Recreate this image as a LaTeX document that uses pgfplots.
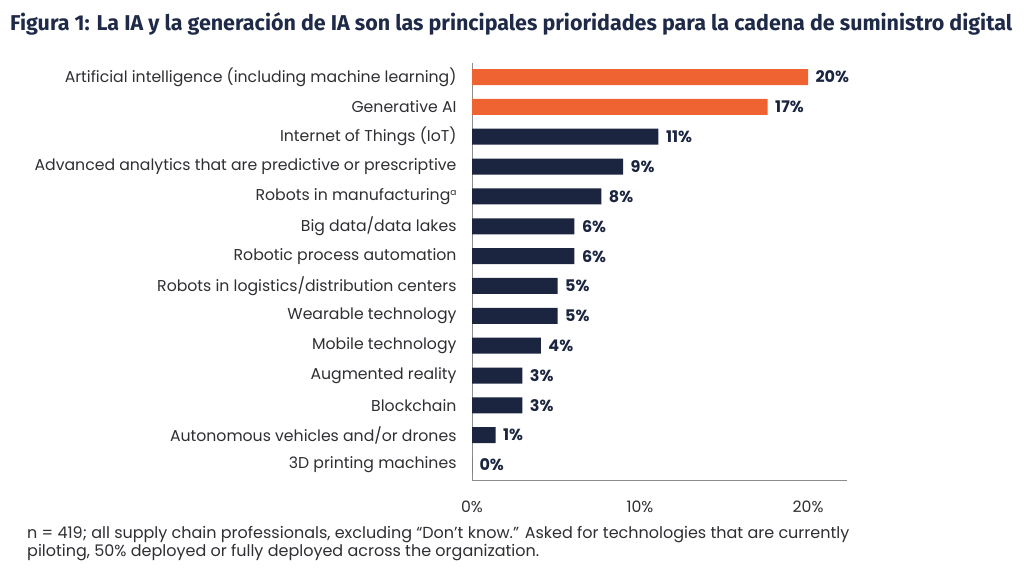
\documentclass[border=0pt]{standalone}
\usepackage{fontspec}
\setmainfont{Poppins}
\newfontfamily\titlefont{Fira Sans}
\usepackage{pgfplots}
\usepackage{pgfplotstable}
\pgfplotsset{compat=1.18}
\definecolor{myorange}{HTML}{EF6333}
\definecolor{mynavy}{HTML}{1B2540}
\definecolor{titlenavy}{HTML}{1E2A48}
\definecolor{labgray}{HTML}{2E2E33}
\pgfplotstableread{
r v p
0 20 20
1 17.6 17
}\orangedata
\pgfplotstableread{
r v p
2 11.1 11
3 9.0 9
4 7.7 8
5 6.1 6
6 6.1 6
7 5.1 5
8 5.1 5
9 4.1 4
10 3.0 3
11 3.0 3
12 1.4 1
13 0 0
}\navydata
\begin{document}
\begin{tikzpicture}
\useasboundingbox (0pt,0pt) rectangle (1024pt,-573pt);
\node[anchor=west, text=titlenavy, inner sep=0pt] at (10pt,-24pt)
  {\resizebox{1002pt}{!}{\titlefont\bfseries Figura 1: La IA y la generación de IA son las principales prioridades para la cadena de suministro digital}};
\begin{axis}[
  at={(472pt,-480pt)}, anchor=south west,
  scale only axis, width=375pt, height=417pt,
  xbar, bar shift=0pt, bar width=16pt,
  xmin=0, xmax=22.32,
  ymin=-0.47, ymax=13.5, y dir=reverse,
  axis x line*=bottom, axis y line*=left,
  axis line style={-, draw=black!45, line width=0.8pt},
  xtick={0,10,20}, xticklabels={0\%,10\%,20\%},
  ytick={0,...,13},
  yticklabels={Artificial intelligence (including machine learning),Generative AI,Internet of Things (IoT),Advanced analytics that are predictive or prescriptive,Robots in manufacturing\raisebox{5pt}{\fontsize{9}{10}\selectfont a},Big data/data lakes,Robotic process automation,Robots in logistics/distribution centers,Wearable technology,Mobile technology,Augmented reality,Blockchain,Autonomous vehicles and/or drones,3D printing machines},
  major tick length=0pt,
  tick label style={font=\fontsize{15.7}{18}\selectfont, text=labgray},
  yticklabel style={xshift=-12pt},
  xticklabel style={yshift=-17pt},
  point meta=explicit,
  nodes near coords={\pgfmathprintnumber[fixed,precision=0,assume math mode=true]{\pgfplotspointmeta}\%},
  nodes near coords style={anchor=west, font=\fontsize{16}{18}\selectfont\bfseries, text=mynavy, xshift=4pt},
  clip=false,
]
\addplot[fill=myorange, draw=none] table[x=v, y=r, meta=p] {\orangedata};
\addplot[fill=mynavy, draw=none] table[x=v, y=r, meta=p] {\navydata};
\end{axis}
\node[anchor=north west, text=labgray, font=\fontsize{16}{18.5}\selectfont, align=left, inner sep=0pt] at (27pt,-526pt)
  {n = 419; all supply chain professionals, excluding “Don’t know.” Asked for technologies that are currently\\
   piloting, 50\% deployed or fully deployed across the organization.};
\end{tikzpicture}
\end{document}
